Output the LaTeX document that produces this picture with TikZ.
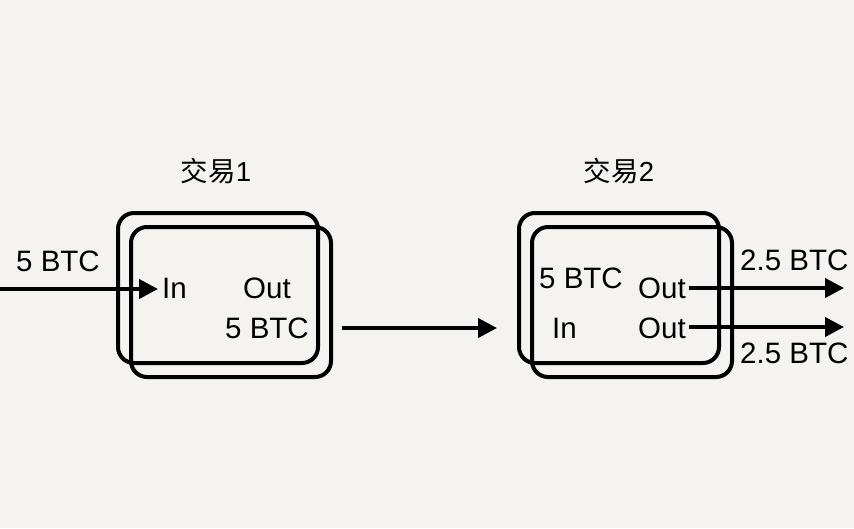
\documentclass[tikz,border=0pt]{standalone}
\usepackage{fontspec}
\setmainfont{Liberation Sans}
\newfontfamily\cjk{Noto Sans CJK SC}
\usetikzlibrary{arrows.meta}
\definecolor{paper}{HTML}{F4F3EF}
\begin{document}
\begin{tikzpicture}[x=1pt,y=-1pt,
  box/.style={draw=black,line width=4pt,rounded corners=16pt,minimum width=200pt,minimum height=150pt,inner sep=0pt},
  lbl/.style={font=\fontsize{29.5}{32}\selectfont,anchor=base west,inner sep=0pt},
  ttl/.style={font=\fontsize{27.5}{30}\selectfont,anchor=base,inner sep=0pt},
  arr/.style={line width=4pt,-{Triangle[length=19pt,width=19pt]}}]
\fill[paper] (0,0) rectangle (854,528);
\useasboundingbox (0,0) rectangle (854,528);
% transaction 1
\node[ttl] (t1) at (216,181) {{\cjk 交易}1};
\node[box] (b1back) at (218,288) {};
\node[box] (b1front) at (231,302) {};
\node[lbl] (in1lbl) at (16,271) {5 BTC};
\node[lbl] (in1) at (162,298) {In};
\node[lbl] (out1) at (243,298) {Out};
\node[lbl] (out1lbl) at (225,338) {5 BTC};
% transaction 2
\node[ttl] (t2) at (619,181) {{\cjk 交易}2};
\node[box] (b2back) at (619,288) {};
\node[box] (b2front) at (632,302) {};
\node[lbl] (in2lbl) at (539,288) {5 BTC};
\node[lbl] (out2a) at (638,298) {Out};
\node[lbl] (in2) at (552,338) {In};
\node[lbl] (out2b) at (638,338) {Out};
\node[lbl] (o2alb) at (740,270) {2.5 BTC};
\node[lbl] (o2blb) at (740,363) {2.5 BTC};
% arrows
\coordinate (s0) at (0,289);
\coordinate (e0) at (158,289);
\coordinate (s1) at (342,328);
\coordinate (e1) at (497,328);
\coordinate (s2) at (689,288);
\coordinate (e2) at (844,288);
\coordinate (s3) at (689,327);
\coordinate (e3) at (844,327);
\draw[arr] (s0) -- (e0);
\draw[arr] (s1) -- (e1);
\draw[arr] (s2) -- (e2);
\draw[arr] (s3) -- (e3);
\end{tikzpicture}
\end{document}
